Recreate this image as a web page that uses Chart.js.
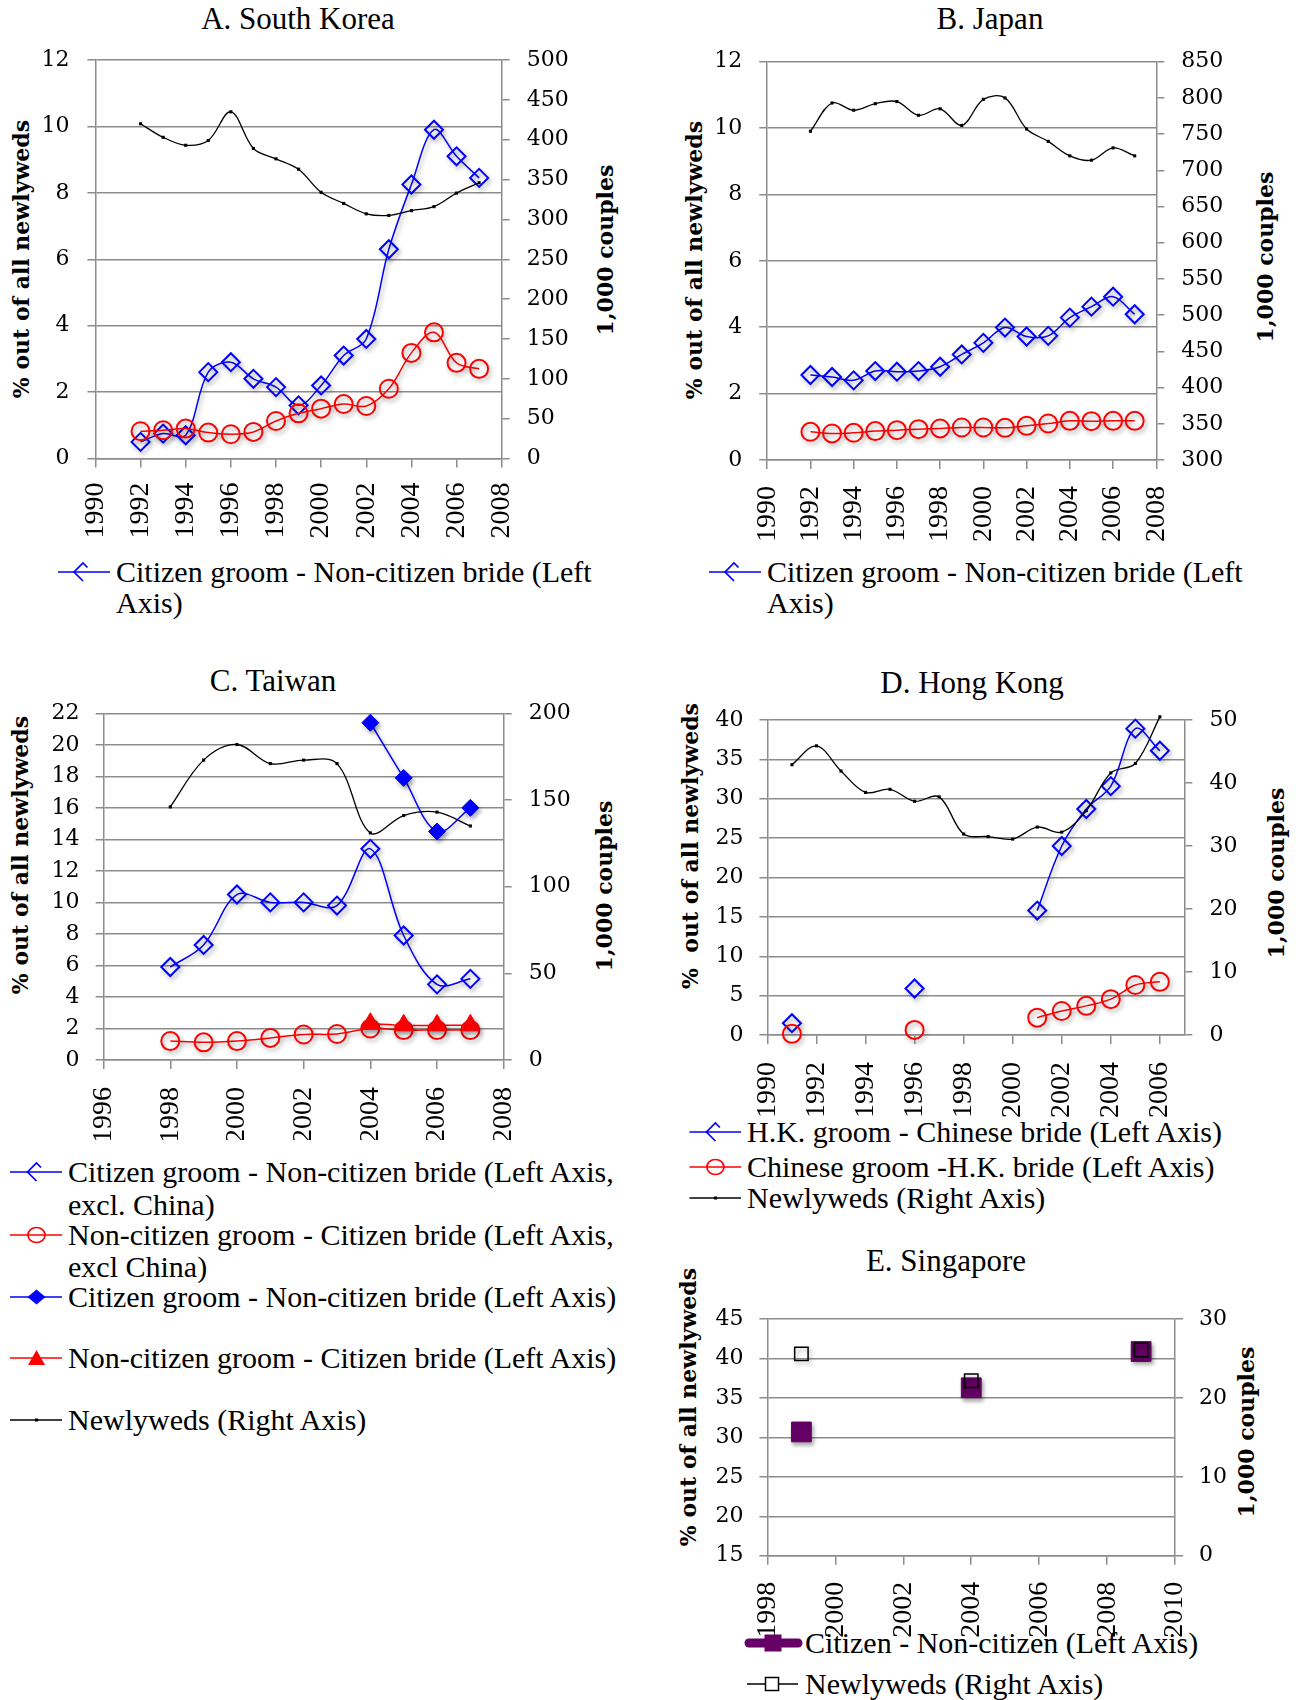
<!DOCTYPE html>
<html>
<head>
<meta charset="utf-8">
<title>Cross-border marriages in East Asia</title>
<script src="https://cdn.jsdelivr.net/npm/chart.js@4.4.1/dist/chart.umd.min.js"></script>
<style>
  html, body { margin: 0; padding: 0; background: #ffffff; }
  body { position: relative; width: 1306px; height: 1700px; overflow: hidden;
         font-family: 'Liberation Serif', 'Times New Roman', serif; color: #000; }
  canvas { position: absolute; }
  .txt { position: absolute; white-space: pre; line-height: 1; }
  .title { font-size: 31px; transform: translate(-50%, -50%); }
  .axis { font-family: 'DejaVu Serif', serif; font-weight: bold; font-size: 22px;
          transform: translate(-50%, -50%) rotate(-90deg); }
  .leg { font-size: 30px; transform: translateY(-50%); }
  #marks { position: absolute; left: 0; top: 0; }
</style>
</head>
<body>

<!-- panel titles -->
<div class="txt title" style="left:298px; top:18px;">A. South Korea</div>
<div class="txt title" style="left:990px; top:18px;">B. Japan</div>
<div class="txt title" style="left:273px; top:680px;">C. Taiwan</div>
<div class="txt title" style="left:972px; top:682px;">D. Hong Kong</div>
<div class="txt title" style="left:946px; top:1260px;">E. Singapore</div>

<!-- axis titles -->
<div class="txt axis" style="left:21px; top:259px;">% out of all newlyweds</div>
<div class="txt axis" style="left:605px; top:250px;">1,000 couples</div>
<div class="txt axis" style="left:694px; top:260px;">% out of all newlyweds</div>
<div class="txt axis" style="left:1265px; top:257px;">1,000 couples</div>
<div class="txt axis" style="left:20px; top:855px;">% out of all newlyweds</div>
<div class="txt axis" style="left:604px; top:886px;">1,000 couples</div>
<div class="txt axis" style="left:690px; top:846px;">%  out of all newlyweds</div>
<div class="txt axis" style="left:1276px; top:873px;">1,000 couples</div>
<div class="txt axis" style="left:688px; top:1407px;">% out of all newlyweds</div>
<div class="txt axis" style="left:1246px; top:1432px;">1,000 couples</div>

<!-- legend symbols -->
<svg id="marks" width="1306" height="1700">
  <!-- A -->
  <line x1="58" y1="572" x2="110" y2="572" stroke="#0000ff" stroke-width="1.5"/>
  <path d="M87.5 567.5 L83 563 L74 572 L83 581" fill="none" stroke="#0000ff" stroke-width="1.7"/>
  <!-- B -->
  <line x1="709" y1="572" x2="761" y2="572" stroke="#0000ff" stroke-width="1.5"/>
  <path d="M738.5 567.5 L734 563 L725 572 L734 581" fill="none" stroke="#0000ff" stroke-width="1.7"/>
  <!-- C -->
  <line x1="10" y1="1172" x2="62" y2="1172" stroke="#0000ff" stroke-width="1.5"/>
  <path d="M41 1167.5 L36.5 1163 L27.5 1172 L36.5 1181" fill="none" stroke="#0000ff" stroke-width="1.7"/>
  <line x1="10" y1="1235" x2="62" y2="1235" stroke="#ff0000" stroke-width="1.5"/>
  <ellipse cx="36.5" cy="1235" rx="8.5" ry="7.5" fill="none" stroke="#ff0000" stroke-width="1.7"/>
  <line x1="10" y1="1297" x2="62" y2="1297" stroke="#0000ff" stroke-width="1.5"/>
  <polygon points="36.5,1289.5 45.5,1297 36.5,1304.5 27.5,1297" fill="#0000ff"/>
  <line x1="10" y1="1358" x2="62" y2="1358" stroke="#ff0000" stroke-width="1.5"/>
  <polygon points="36.5,1350 45,1365 28,1365" fill="#ff0000"/>
  <line x1="10" y1="1420" x2="62" y2="1420" stroke="#000000" stroke-width="1.3"/>
  <rect x="35" y="1418.5" width="3" height="3" fill="#000000"/>
  <!-- D -->
  <line x1="689.5" y1="1132" x2="741" y2="1132" stroke="#0000ff" stroke-width="1.5"/>
  <path d="M719.9 1127.5 L715.4 1123 L706.4 1132 L715.4 1141" fill="none" stroke="#0000ff" stroke-width="1.7"/>
  <line x1="689.5" y1="1167" x2="741" y2="1167" stroke="#ff0000" stroke-width="1.5"/>
  <ellipse cx="715.4" cy="1167" rx="8.5" ry="7.5" fill="none" stroke="#ff0000" stroke-width="1.7"/>
  <line x1="689.5" y1="1198" x2="741" y2="1198" stroke="#000000" stroke-width="1.3"/>
  <rect x="714" y="1196.5" width="3" height="3" fill="#000000"/>
  <!-- E -->
  <line x1="749" y1="1643" x2="798" y2="1643" stroke="#660066" stroke-width="9" stroke-linecap="round"/>
  <rect x="764.5" y="1634.5" width="17" height="17" fill="#660066"/>
  <line x1="747" y1="1684" x2="798" y2="1684" stroke="#000000" stroke-width="1.3"/>
  <rect x="765.5" y="1677.5" width="13" height="13" fill="#ffffff" stroke="#000000" stroke-width="1.5"/>
</svg>

<!-- legend texts -->
<div class="txt leg" style="left:116px; top:572px;">Citizen groom - Non-citizen bride (Left</div>
<div class="txt leg" style="left:116px; top:603px;">Axis)</div>
<div class="txt leg" style="left:767px; top:572px;">Citizen groom - Non-citizen bride (Left</div>
<div class="txt leg" style="left:767px; top:603px;">Axis)</div>

<div class="txt leg" style="left:68px; top:1172px;">Citizen groom - Non-citizen bride (Left Axis,</div>
<div class="txt leg" style="left:68px; top:1205px;">excl. China)</div>
<div class="txt leg" style="left:68px; top:1235px;">Non-citizen groom - Citizen bride (Left Axis,</div>
<div class="txt leg" style="left:68px; top:1267px;">excl China)</div>
<div class="txt leg" style="left:68px; top:1297px;">Citizen groom - Non-citizen bride (Left Axis)</div>
<div class="txt leg" style="left:68px; top:1358px;">Non-citizen groom - Citizen bride (Left Axis)</div>
<div class="txt leg" style="left:68px; top:1420px;">Newlyweds (Right Axis)</div>

<div class="txt leg" style="left:747px; top:1132px;">H.K. groom - Chinese bride (Left Axis)</div>
<div class="txt leg" style="left:747px; top:1167px;">Chinese groom -H.K. bride (Left Axis)</div>
<div class="txt leg" style="left:747px; top:1198px;">Newlyweds (Right Axis)</div>

<div class="txt leg" style="left:805px; top:1643px;">Citizen - Non-citizen (Left Axis)</div>
<div class="txt leg" style="left:805px; top:1684px;">Newlyweds (Right Axis)</div>

<script>
// ---------- A. South Korea ----------
const krYears = [1992, 1993, 1994, 1995, 1996, 1997, 1998, 1999, 2000, 2001, 2002, 2003, 2004, 2005, 2006, 2007];
const krCitizenGroom = [0.5, 0.75, 0.7, 2.6, 2.9, 2.4, 2.15, 1.6, 2.2, 3.1, 3.6, 6.3, 8.25, 9.9, 9.1, 8.45];
const krCitizenBride = [0.82, 0.85, 0.9, 0.78, 0.73, 0.8, 1.13, 1.36, 1.5, 1.64, 1.58, 2.1, 3.18, 3.8, 2.88, 2.7];
const krNewlyweds = [420, 403, 393, 399, 435, 389, 376, 363, 334, 320, 307, 305, 311, 316, 333, 346];

// ---------- B. Japan ----------
const jpYears = [1992, 1993, 1994, 1995, 1996, 1997, 1998, 1999, 2000, 2001, 2002, 2003, 2004, 2005, 2006, 2007];
const jpCitizenGroom = [2.56, 2.5, 2.4, 2.68, 2.66, 2.68, 2.81, 3.18, 3.53, 3.99, 3.72, 3.74, 4.29, 4.62, 4.92, 4.39];
const jpCitizenBride = [0.85, 0.8, 0.82, 0.87, 0.9, 0.93, 0.95, 0.98, 0.98, 0.97, 1.03, 1.1, 1.18, 1.17, 1.18, 1.18];
const jpNewlyweds = [754, 793, 783, 792, 795, 776, 785, 762, 798, 800, 757, 740, 720, 714, 731, 720];

// ---------- C. Taiwan ----------
const twYears = [1998, 1999, 2000, 2001, 2002, 2003, 2004, 2005, 2006, 2007];
const twGroomExclChina = [5.9, 7.3, 10.5, 10.0, 10.0, 9.8, 13.4, 7.9, 4.8, 5.15];
const twBrideExclChina = [1.2, 1.12, 1.2, 1.4, 1.62, 1.65, 2.0, 1.9, 1.9, 1.9];
const twYearsAll = [2004, 2005, 2006, 2007];
const twGroomAll = [21.4, 17.9, 14.5, 16.0];
const twBrideAll = [2.3, 2.2, 2.2, 2.2];
const twNewlyweds = [146, 173, 182, 171, 173, 171, 131, 141, 143, 135];

// ---------- D. Hong Kong ----------
const hkYears = [1991, 1992, 1993, 1994, 1995, 1996, 1997, 1998, 1999, 2000, 2001, 2002, 2003, 2004, 2005, 2006];
const hkGroomChineseBride = [1.5, null, null, null, null, 5.9, null, null, null, null, 15.8, 24.0, 28.7, 31.6, 38.9, 36.1];
const hkChineseGroomBride = [0.15, null, null, null, null, 0.65, null, null, null, null, 2.2, 3.05, 3.7, 4.55, 6.35, 6.75];
const hkNewlyweds = [42.9, 45.9, 41.9, 38.5, 39.0, 37.1, 37.8, 31.9, 31.5, 31.1, 33.0, 32.2, 35.6, 41.6, 43.1, 50.5];

// ---------- E. Singapore ----------
const sgYears = [1999, 2004, 2009];
const sgCitizenNonCitizen = [30.7, 36.3, 40.9];
const sgNewlyweds = [25.6, 22.2, 26.1];

// ---------- styling ----------
const BLUE = '#0000ff', RED = '#ff0000', BLACK = '#000000', PURPLE = '#660066', GRID = '#8c8c8c';
const SERIF = "'Liberation Serif', 'Times New Roman', serif";
const WIDE_SERIF = "'DejaVu Serif', serif";
const CLEAR = 'rgba(0,0,0,0)';

const STYLES = {
  diamondOpen:    { borderColor: BLUE, borderWidth: 1.5, pointStyle: 'rectRot', pointRadius: 9, pointBorderWidth: 2,
                    pointBorderColor: BLUE, pointBackgroundColor: CLEAR, shadow: true },
  circleOpen:     { borderColor: RED, borderWidth: 1.5, pointStyle: 'circle', pointRadius: 9, pointBorderWidth: 2,
                    pointBorderColor: RED, pointBackgroundColor: CLEAR, shadow: true },
  diamondFilled:  { borderColor: BLUE, borderWidth: 1.5, pointStyle: 'rectRot', pointRadius: 8.5, pointBorderWidth: 1,
                    pointBorderColor: BLUE, pointBackgroundColor: BLUE, shadow: true },
  triangleFilled: { borderColor: RED, borderWidth: 1.5, pointStyle: 'triangle', pointRadius: 11, pointBorderWidth: 1,
                    pointBorderColor: RED, pointBackgroundColor: RED, shadow: true },
  newlyweds:      { borderColor: BLACK, borderWidth: 1.3, pointStyle: 'rect', pointRadius: 2.2, pointBorderWidth: 0,
                    pointBorderColor: BLACK, pointBackgroundColor: BLACK, shadow: false },
  squareFilled:   { showLine: false, borderColor: PURPLE, pointStyle: 'rect', pointRadius: 14, pointBorderWidth: 1,
                    pointBorderColor: PURPLE, pointBackgroundColor: PURPLE, shadow: true },
  squareOpen:     { showLine: false, borderColor: BLACK, pointStyle: 'rect', pointRadius: 9.5, pointBorderWidth: 1.5,
                    pointBorderColor: BLACK, pointBackgroundColor: CLEAR, shadow: true }
};

function points(xs, ys) {
  return xs.map((x, i) => ({ x: x, y: ys[i] }));
}

function series(label, style, xs, ys, axis, order) {
  return Object.assign({
    label: label, data: points(xs, ys), xAxisID: 'x', yAxisID: axis, order: order,
    tension: 0.35, fill: false, clip: false, spanGaps: false
  }, STYLES[style]);
}

// soft drop shadow under marker series
const markerShadow = {
  id: 'markerShadow',
  beforeDatasetDraw(chart, args) {
    const ctx = chart.ctx;
    ctx.save();
    if (chart.data.datasets[args.index].shadow) {
      ctx.shadowColor = 'rgba(0,0,0,0.32)';
      ctx.shadowBlur = 4;
      ctx.shadowOffsetX = 2;
      ctx.shadowOffsetY = 3;
    }
  },
  afterDatasetDraw(chart) {
    chart.ctx.restore();
  }
};

const asText = v => String(v);

function yAxis(cfg, position, onArea, width) {
  return {
    type: 'linear', position: position, min: cfg.min, max: cfg.max,
    afterFit: s => { s.width = width; },
    ticks: { stepSize: cfg.step, maxTicksLimit: 100, padding: cfg.pad, color: BLACK,
             font: { family: WIDE_SERIF, size: 22 }, callback: asText },
    grid: { drawOnChartArea: onArea, color: GRID, lineWidth: 1.5, tickLength: 8 },
    border: { display: true, color: GRID, width: 1.5 }
  };
}

function drawPanel(p) {
  const cv = document.createElement('canvas');
  cv.width = p.box.w; cv.height = p.box.h;
  cv.style.left = p.box.x + 'px'; cv.style.top = p.box.y + 'px';
  cv.style.width = p.box.w + 'px'; cv.style.height = p.box.h + 'px';
  document.body.appendChild(cv);

  new Chart(cv.getContext('2d'), {
    type: 'line',
    data: { datasets: p.datasets },
    options: {
      responsive: false, animation: false, devicePixelRatio: 1, events: [],
      layout: { autoPadding: false, padding: { top: p.area.t - p.box.y, left: 0, right: 0, bottom: 0 } },
      plugins: { legend: { display: false }, tooltip: { enabled: false } },
      scales: {
        x: {
          type: 'linear', position: 'bottom', min: p.x.min, max: p.x.max,
          afterFit: s => { s.height = p.box.y + p.box.h - p.area.b; },
          ticks: { stepSize: p.x.step, includeBounds: false, autoSkip: false, minRotation: 90, maxRotation: 90,
                   padding: p.x.pad, color: BLACK, font: { family: SERIF, size: 28 }, callback: asText },
          grid: { drawOnChartArea: false, color: GRID, lineWidth: 1.5, tickLength: 9 },
          border: { display: true, color: GRID, width: 1.5 }
        },
        y: yAxis(p.y, 'left', true, p.area.l - p.box.x),
        y2: yAxis(p.y2, 'right', false, p.box.x + p.box.w - p.area.r)
      }
    },
    plugins: [markerShadow]
  });
}

// A. South Korea
drawPanel({
  box: { x: 0, y: 0, w: 640, h: 560 },
  area: { l: 95.4, t: 60, r: 501.7, b: 458.5 },
  x: { min: 1990, max: 2008, step: 2, pad: 15 },
  y: { min: 0, max: 12, step: 2, pad: 18 },
  y2: { min: 0, max: 500, step: 50, pad: 17 },
  datasets: [
    series('Citizen groom - Non-citizen bride (Left Axis)', 'diamondOpen', krYears, krCitizenGroom, 'y', 3),
    series('Non-citizen groom - Citizen bride (Left Axis)', 'circleOpen', krYears, krCitizenBride, 'y', 2),
    series('Newlyweds (Right Axis)', 'newlyweds', krYears, krNewlyweds, 'y2', 1)
  ]
});

// B. Japan
drawPanel({
  box: { x: 650, y: 0, w: 656, h: 560 },
  area: { l: 767.2, t: 61.7, r: 1156.3, b: 460 },
  x: { min: 1990, max: 2008, step: 2, pad: 17 },
  y: { min: 0, max: 12, step: 2, pad: 17 },
  y2: { min: 300, max: 850, step: 50, pad: 17 },
  datasets: [
    series('Citizen groom - Non-citizen bride (Left Axis)', 'diamondOpen', jpYears, jpCitizenGroom, 'y', 3),
    series('Non-citizen groom - Citizen bride (Left Axis)', 'circleOpen', jpYears, jpCitizenBride, 'y', 2),
    series('Newlyweds (Right Axis)', 'newlyweds', jpYears, jpNewlyweds, 'y2', 1)
  ]
});

// C. Taiwan
drawPanel({
  box: { x: 0, y: 660, w: 640, h: 480 },
  area: { l: 103.6, t: 713.3, r: 503.7, b: 1060 },
  x: { min: 1996, max: 2008, step: 2, pad: 18 },
  y: { min: 0, max: 22, step: 2, pad: 16 },
  y2: { min: 0, max: 200, step: 50, pad: 17 },
  datasets: [
    series('Citizen groom - Non-citizen bride (Left Axis, excl. China)', 'diamondOpen', twYears, twGroomExclChina, 'y', 5),
    series('Non-citizen groom - Citizen bride (Left Axis, excl China)', 'circleOpen', twYears, twBrideExclChina, 'y', 4),
    series('Citizen groom - Non-citizen bride (Left Axis)', 'diamondFilled', twYearsAll, twGroomAll, 'y', 3),
    series('Non-citizen groom - Citizen bride (Left Axis)', 'triangleFilled', twYearsAll, twBrideAll, 'y', 2),
    series('Newlyweds (Right Axis)', 'newlyweds', twYears, twNewlyweds, 'y2', 1)
  ]
});

// D. Hong Kong
drawPanel({
  box: { x: 670, y: 670, w: 636, h: 460 },
  area: { l: 767.4, t: 720, r: 1184.4, b: 1035 },
  x: { min: 1990, max: 2007, step: 2, pad: 18 },
  y: { min: 0, max: 40, step: 5, pad: 16 },
  y2: { min: 0, max: 50, step: 10, pad: 17 },
  datasets: [
    series('H.K. groom - Chinese bride (Left Axis)', 'diamondOpen', hkYears, hkGroomChineseBride, 'y', 3),
    series('Chinese groom -H.K. bride (Left Axis)', 'circleOpen', hkYears, hkChineseGroomBride, 'y', 2),
    series('Newlyweds (Right Axis)', 'newlyweds', hkYears, hkNewlyweds, 'y2', 1)
  ]
});

// E. Singapore
drawPanel({
  box: { x: 670, y: 1290, w: 636, h: 410 },
  area: { l: 767.4, t: 1311, r: 1175.1, b: 1555.7 },
  x: { min: 1998, max: 2010, step: 2, pad: 17 },
  y: { min: 15, max: 45, step: 5, pad: 16 },
  y2: { min: 0, max: 30, step: 10, pad: 16 },
  datasets: [
    series('Citizen - Non-citizen (Left Axis)', 'squareFilled', sgYears, sgCitizenNonCitizen, 'y', 2),
    series('Newlyweds (Right Axis)', 'squareOpen', sgYears, sgNewlyweds, 'y2', 1)
  ]
});
</script>
</body>
</html>
